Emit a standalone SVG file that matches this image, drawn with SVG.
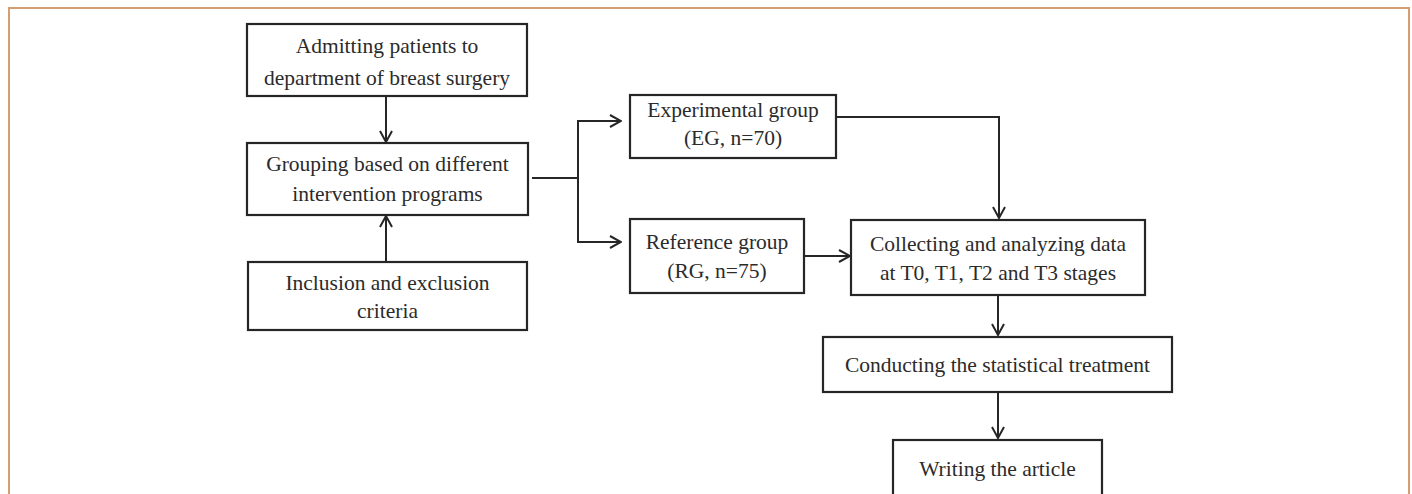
<svg xmlns="http://www.w3.org/2000/svg" width="1412" height="494" viewBox="0 0 1412 494">
<style>
.box{fill:#fff;stroke:#262626;stroke-width:2.2}
.t{font-family:"Liberation Serif","Times New Roman",serif;font-size:21.5px;fill:#2b2b2b;text-anchor:middle}
.c{fill:none;stroke:#262626;stroke-width:2}
</style>
<defs>
<marker id="ah" viewBox="0 0 13 14" refX="12" refY="7" markerWidth="13" markerHeight="14" markerUnits="userSpaceOnUse" orient="auto">
<path d="M1,1 L12,7 L1,13" fill="none" stroke="#262626" stroke-width="2"/>
</marker>
</defs>
<rect x="0" y="0" width="1412" height="494" fill="#fff"/>
<rect x="9" y="8" width="1400" height="500" fill="none" stroke="#D59E70" stroke-width="2"/>
<g id="connectors">
<path class="c" d="M386,96 V142" marker-end="url(#ah)"/>
<path class="c" d="M386,262 V216" marker-end="url(#ah)"/>
<path class="c" d="M532,178 H578"/>
<path class="c" d="M578,121 V242"/>
<path class="c" d="M577,121 H621" marker-end="url(#ah)"/>
<path class="c" d="M577,242 H621" marker-end="url(#ah)"/>
<path class="c" d="M836,117 H999 V218" marker-end="url(#ah)"/>
<path class="c" d="M804,256 H850" marker-end="url(#ah)"/>
<path class="c" d="M998,295 V335" marker-end="url(#ah)"/>
<path class="c" d="M998,392 V438" marker-end="url(#ah)"/>
</g>
<g id="admitting">
<rect class="box" x="247" y="24" width="280" height="72"/>
<text class="t" x="387" y="53">Admitting patients to</text>
<text class="t" x="387" y="85">department of breast surgery</text>
</g>
<g id="grouping">
<rect class="box" x="247" y="143" width="281" height="72"/>
<text class="t" x="387.5" y="171">Grouping based on different</text>
<text class="t" x="387.5" y="201">intervention programs</text>
</g>
<g id="inclusion">
<rect class="box" x="248" y="262" width="279" height="68"/>
<text class="t" x="387.5" y="290">Inclusion and exclusion</text>
<text class="t" x="387.5" y="318">criteria</text>
</g>
<g id="experimental">
<rect class="box" x="630" y="95" width="206" height="63"/>
<text class="t" x="733" y="117">Experimental group</text>
<text class="t" x="733" y="145">(EG, n=70)</text>
</g>
<g id="reference">
<rect class="box" x="630" y="219" width="174" height="74"/>
<text class="t" x="717" y="249">Reference group</text>
<text class="t" x="717" y="278">(RG, n=75)</text>
</g>
<g id="collecting">
<rect class="box" x="851" y="220" width="294" height="75"/>
<text class="t" x="998" y="251">Collecting and analyzing data</text>
<text class="t" x="998" y="280">at T0, T1, T2 and T3 stages</text>
</g>
<g id="conducting">
<rect class="box" x="823" y="337" width="349" height="55"/>
<text class="t" x="997.5" y="372">Conducting the statistical treatment</text>
</g>
<g id="writing">
<rect class="box" x="893" y="440" width="209" height="70"/>
<text class="t" x="997.5" y="476">Writing the article</text>
</g>
</svg>
